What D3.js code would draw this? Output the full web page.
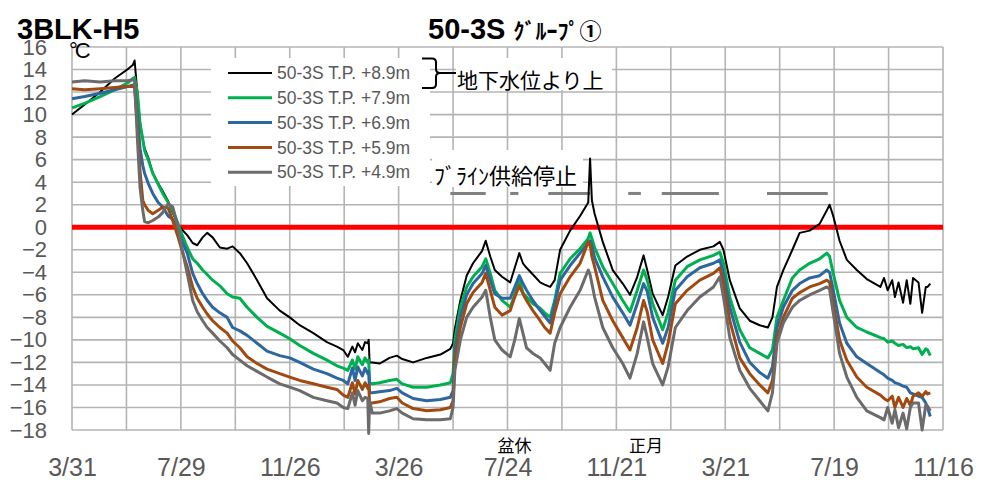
<!DOCTYPE html>
<html><head><meta charset="utf-8">
<script src="https://cdn.jsdelivr.net/npm/d3@7"></script>
<style>
html,body{margin:0;padding:0;background:#fff;}
svg{display:block;}
</style></head>
<body>
<svg id="chart" width="985" height="495"></svg>
<script>
// ---------------- DATA ----------------
const startDate = "2016-03-31";
const xTickStepDays = 120;
const xGridStepDays = 60;
const xSpanDays = 960;
const yTicks = [16,14,12,10,8,6,4,2,0,-2,-4,-6,-8,-10,-12,-14,-16,-18];

// day offsets from startDate
const days = [0,14,31,47,61,67,69,72,75,78,
80,84,89,95,100,106,111,117,121,127,
133,138,144,149,155,163,171,177,185,193,
204,215,229,240,251,266,281,292,299,304,
309,312,315,320,323,326,327,328,331,339,
350,358,364,376,391,406,417,420,422,428,
435,442,452,456,461,466,474,483,488,493,
497,501,508,516,521,527,532,538,549,560,
569,571,573,576,585,596,607,615,623,630,
634,640,651,657,665,678,692,707,714,718,
725,736,747,758,767,772,777,784,794,802,
813,824,832,835,839,846,854,865,876,891,
895,899,904,907,911,916,920,924,927,933,
937,941,943,946];

const seriesNames = ["50-3S T.P. +8.9m","50-3S T.P. +7.9m","50-3S T.P. +6.9m","50-3S T.P. +5.9m","50-3S T.P. +4.9m"];

const tp89 = [10.0,10.9,12.0,13.2,14.0,14.4,14.8,12.0,9.2,7.8,
7.0,6.2,4.8,3.9,3.2,2.3,1.3,0.2,-0.2,-0.7,
-1.4,-1.6,-0.9,-0.5,-0.9,-1.8,-1.9,-1.7,-2.3,-3.2,
-4.7,-6.3,-7.4,-8.0,-8.7,-9.4,-10.2,-10.6,-10.9,-11.5,
-10.6,-11.1,-10.3,-10.9,-10.2,-10.3,-10.0,-12.0,-12.0,-12.1,
-11.6,-11.4,-11.7,-12.0,-11.6,-11.3,-10.8,-10.3,-9.0,-6.5,
-4.3,-3.2,-2.1,-1.2,-2.6,-3.8,-4.4,-4.9,-3.6,-2.3,
-3.2,-3.6,-4.2,-4.9,-5.1,-5.3,-4.7,-2.0,-0.3,1.0,
2.2,6.1,2.4,1.2,-1.3,-3.8,-5.0,-6.0,-4.4,-2.5,
-3.8,-5.9,-7.8,-6.2,-3.4,-2.6,-2.0,-1.7,-1.3,-2.0,
-4.7,-7.2,-8.3,-8.7,-8.9,-8.0,-5.3,-3.8,-2.0,-0.5,
-0.3,0.3,1.5,2.0,1.0,-1.2,-2.9,-3.8,-4.6,-5.3,
-4.5,-5.6,-4.7,-6.2,-4.9,-6.7,-4.7,-6.8,-4.5,-4.9,
-7.6,-5.3,-5.3,-5.0];

const tp79 = [10.6,11.0,11.6,12.2,12.8,13.2,13.3,12.0,9.2,7.8,
6.8,6.0,4.8,3.8,3.0,2.2,1.5,0.3,-0.6,-1.8,
-2.8,-3.2,-3.8,-4.2,-4.7,-5.2,-5.9,-6.2,-6.3,-7.1,
-8.0,-8.8,-9.4,-9.9,-10.5,-11.2,-11.8,-12.3,-12.5,-12.7,
-11.8,-12.6,-11.5,-12.2,-11.6,-12.0,-11.8,-13.8,-13.9,-13.8,
-13.6,-13.5,-13.9,-14.2,-14.2,-14.0,-13.8,-13.0,-10.0,-7.1,
-5.3,-4.4,-3.5,-2.8,-4.1,-5.6,-6.5,-7.1,-6.0,-4.6,
-5.8,-6.2,-6.8,-7.2,-7.6,-8.0,-6.5,-4.1,-2.8,-1.9,
-1.0,-0.5,-1.0,-1.8,-3.5,-5.0,-6.5,-7.5,-5.6,-3.8,
-4.7,-6.8,-9.1,-7.6,-4.7,-3.5,-2.9,-2.5,-2.2,-3.2,
-6.2,-9.1,-10.7,-11.2,-11.6,-10.9,-8.0,-6.5,-4.5,-3.8,
-3.2,-2.8,-2.3,-2.6,-4.1,-6.5,-8.0,-8.9,-9.3,-9.8,
-9.9,-10.2,-10.1,-10.3,-10.5,-10.4,-10.7,-10.6,-10.8,-10.7,
-11.3,-10.8,-10.9,-11.4];

const tp69 = [11.4,11.6,11.9,12.2,12.5,12.6,12.7,10.0,7.0,5.5,
4.8,3.9,3.0,2.2,1.8,1.0,0.7,-0.3,-1.2,-2.3,
-4.1,-5.0,-5.9,-6.5,-7.1,-7.6,-8.0,-8.9,-9.2,-9.6,
-10.3,-11.0,-11.4,-11.6,-12.0,-12.6,-13.0,-13.4,-13.6,-13.9,
-12.5,-13.6,-12.4,-13.2,-12.5,-13.0,-12.8,-14.7,-14.7,-14.6,
-14.5,-14.3,-14.7,-15.2,-15.4,-15.3,-15.1,-14.5,-10.9,-8.0,
-6.0,-5.0,-4.1,-3.4,-4.7,-5.9,-6.3,-6.3,-5.3,-4.3,
-5.0,-5.6,-6.5,-7.4,-7.9,-8.5,-6.8,-4.7,-3.4,-2.3,
-1.4,-1.2,-1.6,-2.7,-4.4,-6.2,-7.6,-8.7,-6.8,-5.0,
-5.7,-8.0,-10.3,-8.9,-5.6,-4.4,-3.6,-3.2,-2.9,-4.1,
-7.1,-10.2,-12.0,-12.9,-13.4,-12.4,-8.9,-7.1,-5.6,-5.0,
-4.5,-4.3,-3.8,-4.0,-5.6,-8.5,-10.3,-11.5,-12.1,-12.9,
-13.1,-13.4,-13.6,-13.8,-13.9,-14.1,-14.2,-14.7,-14.8,-15.0,
-15.1,-15.6,-16.0,-16.8];

const tp59 = [12.3,12.2,12.3,12.4,12.5,12.5,12.4,9.0,5.0,2.4,
2.0,1.5,1.2,1.5,1.8,1.7,0.6,-0.9,-2.0,-3.5,
-5.3,-6.3,-7.1,-7.7,-8.3,-8.9,-9.4,-10.1,-10.7,-11.5,
-12.1,-12.6,-13.0,-13.3,-13.6,-13.9,-14.2,-14.4,-14.9,-15.1,
-13.8,-14.8,-13.6,-14.4,-13.8,-14.3,-14.0,-15.6,-15.6,-15.5,
-15.2,-15.1,-15.6,-16.1,-16.3,-16.2,-16.0,-15.4,-11.8,-8.9,
-6.8,-5.8,-4.9,-4.1,-5.6,-7.1,-7.8,-7.4,-6.2,-5.2,
-5.9,-6.5,-7.4,-8.3,-8.9,-9.4,-7.6,-5.9,-4.4,-3.2,
-1.3,-1.5,-2.6,-3.5,-6.5,-8.3,-9.8,-10.9,-8.9,-6.5,
-7.5,-10.0,-12.1,-10.3,-6.8,-5.6,-4.7,-4.1,-3.6,-5.0,
-8.3,-11.6,-13.0,-14.0,-14.7,-13.6,-9.8,-8.0,-6.3,-5.8,
-5.3,-5.0,-4.7,-4.9,-6.8,-10.0,-11.8,-13.3,-14.2,-14.9,
-15.2,-15.4,-15.0,-16.0,-15.1,-16.0,-15.2,-15.8,-15.0,-14.7,
-15.0,-14.6,-14.8,-14.7];

const tp49 = [12.9,13.0,12.9,13.0,13.0,13.1,13.0,8.0,3.5,1.5,
0.5,0.4,0.6,0.9,1.3,2.1,1.8,0.0,-1.8,-4.1,
-6.5,-7.5,-8.3,-8.9,-9.4,-10.1,-10.7,-11.3,-11.8,-12.3,
-12.8,-13.3,-13.9,-14.2,-14.5,-15.1,-15.4,-15.6,-16.0,-16.1,
-14.7,-15.8,-14.5,-15.4,-15.1,-15.2,-18.3,-15.4,-16.5,-16.5,
-16.3,-16.1,-16.5,-17.0,-17.1,-17.1,-17.0,-16.0,-12.7,-10.0,
-8.0,-7.1,-6.2,-5.6,-8.0,-10.0,-10.9,-11.5,-10.0,-8.1,
-9.4,-10.7,-11.2,-11.6,-12.1,-12.7,-10.3,-8.9,-7.1,-5.6,
-3.8,-4.2,-5.0,-6.2,-8.9,-10.7,-12.1,-13.4,-11.2,-8.4,
-9.8,-12.1,-14.0,-12.4,-8.9,-7.4,-6.2,-5.3,-4.4,-6.2,
-9.8,-12.7,-14.3,-15.4,-16.3,-14.7,-10.3,-8.5,-7.1,-6.5,
-6.0,-5.6,-5.3,-5.5,-7.6,-11.2,-13.3,-15.1,-16.3,-16.9,
-17.1,-16.0,-17.4,-16.2,-17.8,-16.5,-17.9,-16.0,-15.6,-15.6,
-18.0,-15.8,-15.9,-16.3];

// brine supply stop periods (day offsets) drawn at a level of 3 ℃
const brineStopStart = [417,483,525,613,650,766];
const brineStopEnd   = [456,492,571,627,713,833];
const brineStopLevel = 3;

const annotations = [
  {day: 470, text: "盆休"},
  {day: 615, text: "正月"}
];

// ---------------- CHART ----------------
const colors = ["#000000","#00B050","#2E67A0","#A04A12","#6B6B6B"];
const widths = [2, 3, 3, 3, 3];
const seriesValues = [tp89, tp79, tp69, tp59, tp49];

const svg = d3.select("#chart");
const W = 985, H = 495;
const m = {left:72, right:985-943, top:47, bottom:495-430};
const numFont = "'Liberation Sans', Arial, sans-serif";
const jpFont = "'Noto Sans CJK JP', 'Noto Sans', sans-serif";

const t0 = new Date(startDate + "T00:00:00Z");
const dayToDate = d => d3.utcDay.offset(t0, d);

const x = d3.scaleUtc().domain([t0, dayToDate(xSpanDays)]).range([m.left, W - m.right]);
const y = d3.scaleLinear().domain([-18, 16]).range([H - m.bottom, m.top]);

// gridlines
const grid = svg.append("g");
const gridDays = d3.range(0, xSpanDays + 1, xGridStepDays);
grid.selectAll("line.v").data(gridDays).join("line")
  .attr("x1", d => x(dayToDate(d))).attr("x2", d => x(dayToDate(d)))
  .attr("y1", y(16)).attr("y2", y(-18))
  .attr("stroke", "#b4b4b4").attr("stroke-width", 1.6);
grid.selectAll("line.h").data(yTicks).join("line")
  .attr("x1", x.range()[0]).attr("x2", x.range()[1])
  .attr("y1", d => y(d)).attr("y2", d => y(d))
  .attr("stroke", "#b4b4b4").attr("stroke-width", 1.6);

// y axis
const yAxis = d3.axisLeft(y).tickValues(yTicks).tickSize(0).tickPadding(25);
const yg = svg.append("g").attr("transform", `translate(${m.left},0)`).call(yAxis);
yg.select(".domain").remove();
yg.selectAll("text").attr("font-family", numFont).attr("font-size", 22).attr("fill", "#595959");

// x axis
const xTickDates = d3.range(0, xSpanDays + 1, xTickStepDays).map(dayToDate);
const xAxis = d3.axisBottom(x).tickValues(xTickDates).tickFormat(d3.utcFormat("%-m/%-d")).tickSize(0).tickPadding(28);
const xg = svg.append("g").attr("transform", `translate(0,${H - m.bottom})`).call(xAxis);
xg.select(".domain").remove();
xg.selectAll("text").attr("font-family", numFont).attr("font-size", 25).attr("fill", "#595959");

// zero line
svg.append("line")
  .attr("x1", x.range()[0]).attr("x2", x.range()[1])
  .attr("y1", y(0)).attr("y2", y(0))
  .attr("stroke", "#FF0000").attr("stroke-width", 5);

// brine stop dashes
svg.append("g").selectAll("line").data(brineStopStart).join("line")
  .attr("x1", (d) => x(dayToDate(d)))
  .attr("x2", (d, i) => x(dayToDate(brineStopEnd[i])))
  .attr("y1", y(brineStopLevel)).attr("y2", y(brineStopLevel))
  .attr("stroke", "#808080").attr("stroke-width", 3);

// series
const line = d3.line()
  .x((v, i) => x(dayToDate(days[i])))
  .y(v => y(v));
const lg = svg.append("g");
seriesValues.forEach((vals, k) => {
  lg.append("path").datum(vals)
    .attr("d", line)
    .attr("fill", "none")
    .attr("stroke", colors[k])
    .attr("stroke-width", widths[k])
    .attr("stroke-linejoin", "round");
});

// legend
const legend = svg.append("g");
legend.append("rect").attr("x", 211).attr("y", 58).attr("width", 219).attr("height", 128).attr("fill", "#fff");
seriesNames.forEach((name, k) => {
  const ly = 73 + k * 24.8;
  legend.append("line").attr("x1", 228).attr("x2", 272).attr("y1", ly).attr("y2", ly)
    .attr("stroke", colors[k]).attr("stroke-width", widths[k]);
  legend.append("text").attr("x", 277).attr("y", ly).attr("dy", "0.35em")
    .attr("font-family", numFont).attr("font-size", 17.5).attr("fill", "#595959").text(name);
});

// bracket + label
svg.append("path")
  .attr("d", "M422,58.5 L432,58.5 Q436,58.5 436,62.5 L436,69 Q436,73 440,73 Q436,73 436,77 L436,84 Q436,88 432,88 L422,88 M440,73 L456,73")
  .attr("fill", "none").attr("stroke", "#000").attr("stroke-width", 2);
svg.append("rect").attr("x", 456).attr("y", 58).attr("width", 156).attr("height", 32).attr("fill", "#fff");
svg.append("text").attr("x", 457).attr("y", 88).attr("font-family", jpFont).attr("font-size", 21)
  .attr("fill", "#000").text("地下水位より上");

// brine stop label
svg.append("rect").attr("x", 432).attr("y", 150).attr("width", 151).attr("height", 37).attr("fill", "#fff");
svg.append("text").attr("x", 434).attr("y", 184).attr("font-family", jpFont).attr("font-size", 22)
  .attr("fill", "#000").text("ﾌﾞﾗｲﾝ供給停止");

// holiday annotations
svg.append("g").selectAll("text").data(annotations).join("text")
  .attr("x", d => x(dayToDate(d.day)) + 16).attr("y", 452)
  .attr("text-anchor", "middle")
  .attr("font-family", jpFont).attr("font-size", 17).attr("fill", "#000")
  .text(d => d.text);

// unit
svg.append("text").attr("x", 69).attr("y", 58).attr("font-family", numFont).attr("font-size", 22)
  .attr("letter-spacing", -3).attr("fill", "#000").text("°C");

// titles
svg.append("text").attr("x", 17).attr("y", 39).attr("font-family", numFont).attr("font-size", 29)
  .attr("font-weight", "bold").attr("fill", "#000").text("3BLK-H5");
const t2 = svg.append("text").attr("x", 428).attr("y", 39).attr("font-family", numFont)
  .attr("font-weight", "bold").attr("fill", "#000");
t2.append("tspan").attr("font-size", 29).text("50-3S ");
t2.append("tspan").attr("font-size", 22).attr("font-family", jpFont).text("ｸﾞﾙｰﾌﾟ①");
</script>
</body></html>
